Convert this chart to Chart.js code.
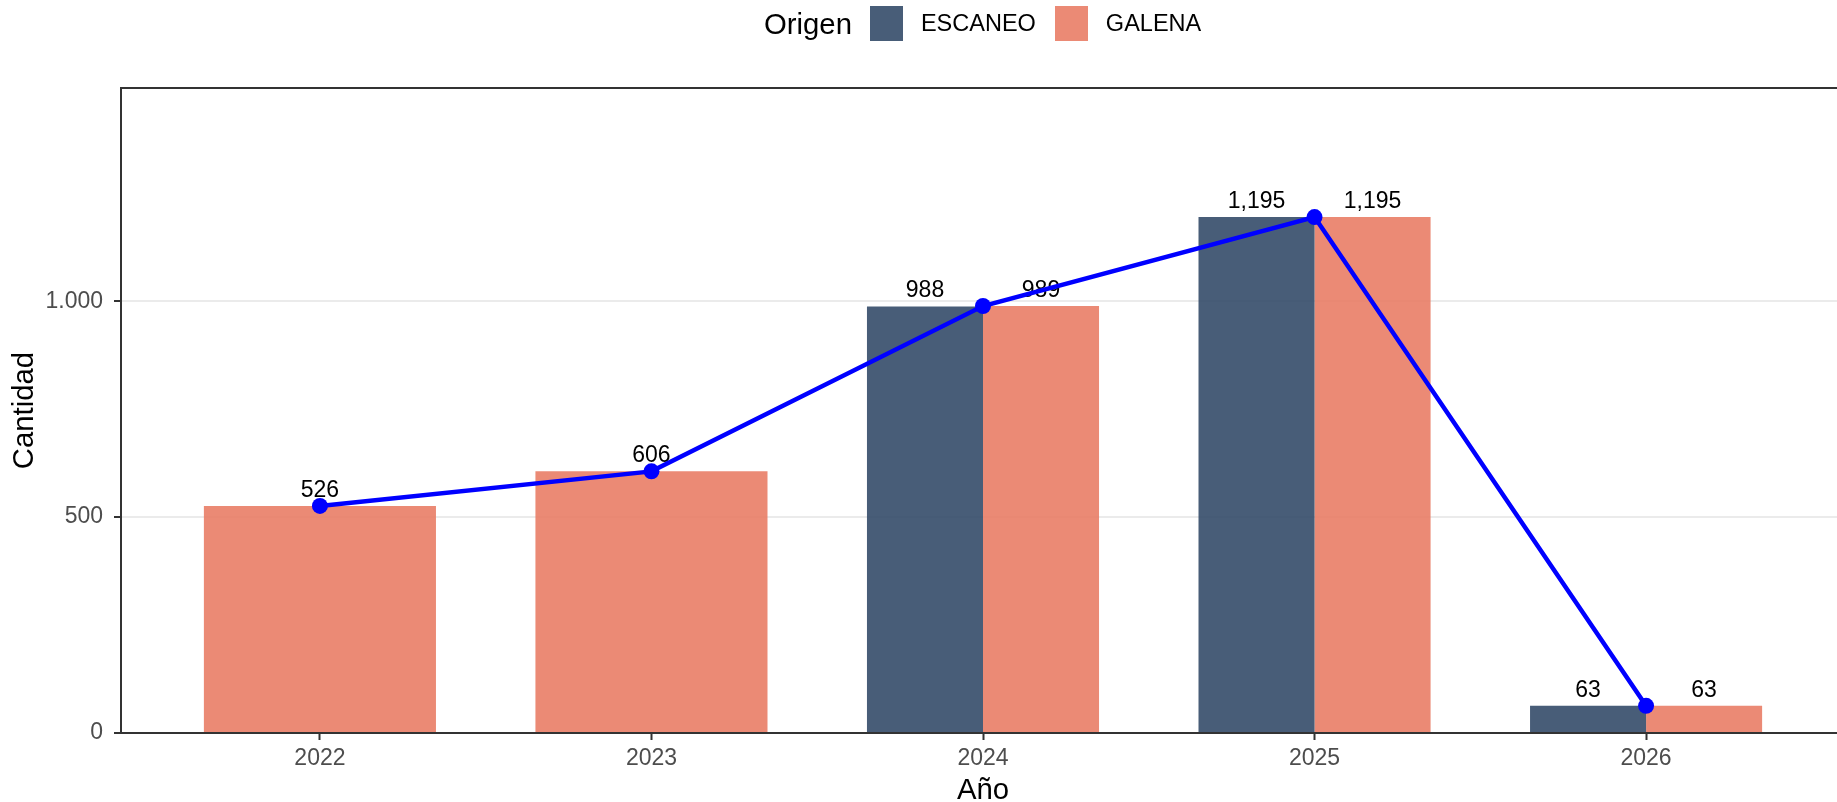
<!DOCTYPE html>
<html>
<head>
<meta charset="utf-8">
<script src="https://cdn.jsdelivr.net/npm/chart.js@4.4.1/dist/chart.umd.min.js"></script>
<style>
  html, body { margin: 0; padding: 0; background: #fff; overflow: hidden; width: 1837px; height: 802px; }
  #wrap { position: absolute; left: 0; top: 0; }
  .leyenda { position: absolute; left: 764px; top: 6px; height: 35px; display: flex; align-items: center;
             font-family: "Liberation Sans", Arial, sans-serif; color: #000; white-space: nowrap; }
  .leyenda .titulo { font-size: 29.3px; margin-right: 18px; }
  .leyenda .caja { width: 33px; height: 35px; margin-right: 18px; }
  .leyenda .texto { font-size: 23.5px; margin-right: 19px; }
</style>
</head>
<body>
<div id="wrap"><canvas id="grafico" width="1860" height="802"></canvas></div>
<div class="leyenda" id="leyenda"></div>
<script>
"use strict";

const anios = [2022, 2023, 2024, 2025, 2026];
const escaneo = [null, null, 988, 1195, 63];
const galena = [526, 606, 989, 1195, 63];
const maximoAnual = [526, 606, 989, 1195, 63];
const ticksY = [0, 500, 1000];
const origenes = ["ESCANEO", "GALENA"];
const colores = ["rgba(52, 75, 105, 0.9)", "rgba(233, 125, 102, 0.9)"];

Chart.defaults.font.family = "'Liberation Sans', Arial, sans-serif";

// separador de miles a mano (el eje usa punto, las etiquetas coma)
function miles(n, sep){
    return String(n).replace(/\B(?=(\d{3})+(?!\d))/g, sep);
}

function puntos(valores){
    return anios.map((a, i) => ({ x: a, y: valores[i] }));
}

// leyenda arriba, con el titulo en la misma fila
const leyenda = document.getElementById("leyenda");
let titulo = document.createElement("span");
titulo.setAttribute("class", "titulo");
titulo.textContent = "Origen";
leyenda.appendChild(titulo);
origenes.forEach((nombre, i) => {
    let caja = document.createElement("span");
    caja.setAttribute("class", "caja");
    caja.style.background = colores[i];
    let texto = document.createElement("span");
    texto.setAttribute("class", "texto");
    texto.textContent = nombre;
    leyenda.appendChild(caja);
    leyenda.appendChild(texto);
});

// numeros encima de cada barra, antes de pintar la linea
const etiquetasBarras = {
    id: "etiquetasBarras",
    afterDatasetDraw(chart, args){
        const meta = args.meta;
        if(meta.type !== "bar") return;
        const ctx = chart.ctx;
        ctx.save();
        ctx.font = "23px 'Liberation Sans', Arial, sans-serif";
        ctx.fillStyle = "#000";
        ctx.textAlign = "center";
        ctx.textBaseline = "alphabetic";
        meta.data.forEach((barra, i) => {
            const v = chart.data.datasets[args.index].data[i].y;
            if(v === null || v === undefined) return;
            ctx.fillText(miles(v, ","), barra.x, barra.y - 9);
        });
        ctx.restore();
    }
};

// marco del panel
const marcoPanel = {
    id: "marcoPanel",
    afterDatasetsDraw(chart){
        const a = chart.chartArea;
        const ctx = chart.ctx;
        ctx.save();
        ctx.strokeStyle = "#333333";
        ctx.lineWidth = 2;
        ctx.strokeRect(a.left, a.top, a.right - a.left, a.bottom - a.top);
        ctx.restore();
    }
};

new Chart(document.getElementById("grafico"), {
    type: "bar",
    data: {
        datasets: [
            {
                type: "line",
                label: "max",
                data: puntos(maximoAnual),
                order: 0,
                borderColor: "#0000ff",
                borderWidth: 4.5,
                pointRadius: 8,
                pointBackgroundColor: "#0000ff",
                pointBorderWidth: 0,
                tension: 0
            },
            {
                label: origenes[0],
                data: puntos(escaneo),
                order: 1,
                backgroundColor: colores[0],
                borderWidth: 0
            },
            {
                label: origenes[1],
                data: puntos(galena),
                order: 2,
                backgroundColor: colores[1],
                borderWidth: 0
            }
        ]
    },
    options: {
        responsive: false,
        animation: false,
        skipNull: true,
        categoryPercentage: 0.7,
        barPercentage: 1.0,
        layout: { padding: { top: 88, right: 15, bottom: 0, left: 0 } },
        plugins: {
            legend: { display: false },
            tooltip: { enabled: false }
        },
        scales: {
            x: {
                type: "linear",
                min: 2021.4,
                max: 2026.6,
                offset: false,
                afterBuildTicks: s => { s.ticks = anios.map(v => ({ value: v })); },
                afterFit: s => { s.height = 69; },
                grid: { drawOnChartArea: false, tickLength: 7, tickColor: "#333333", tickWidth: 2, offset: false },
                border: { color: "#333333", width: 2 },
                ticks: {
                    color: "#4d4d4d",
                    font: { size: 23 },
                    padding: 5,
                    maxRotation: 0,
                    autoSkip: false,
                    callback: v => String(v)
                },
                title: {
                    display: true,
                    text: "Año",
                    color: "#000",
                    font: { size: 29.3 },
                    padding: { top: 0, bottom: -6 }
                }
            },
            y: {
                min: 0,
                max: 1494,
                afterBuildTicks: s => { s.ticks = ticksY.map(v => ({ value: v })); },
                afterFit: s => { s.width = 121; },
                grid: { color: "#ebebeb", lineWidth: 2, tickLength: 7, tickColor: "#333333", tickWidth: 2 },
                border: { color: "#333333", width: 2 },
                ticks: {
                    color: "#4d4d4d",
                    font: { size: 23 },
                    padding: 11,
                    callback: v => miles(v, ".")
                },
                title: {
                    display: true,
                    text: "Cantidad",
                    color: "#000",
                    font: { size: 29.3 },
                    padding: { top: 7, bottom: 0 }
                }
            }
        }
    },
    plugins: [etiquetasBarras, marcoPanel]
});
</script>
</body>
</html>
